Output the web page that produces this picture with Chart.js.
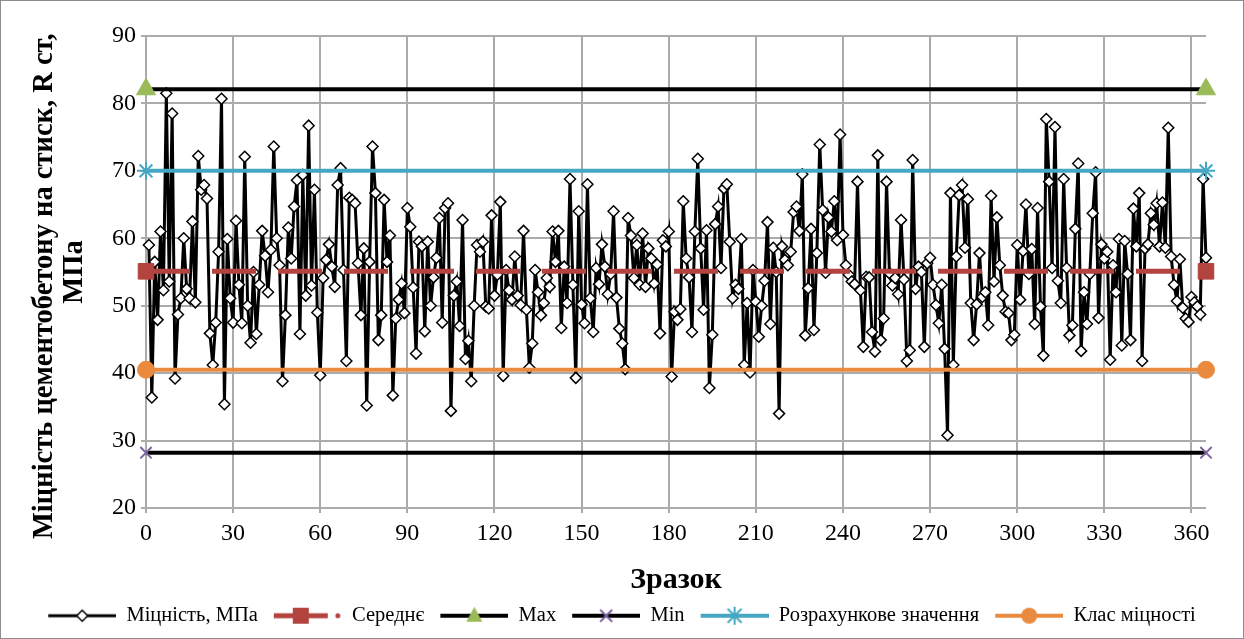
<!DOCTYPE html>
<html><head><meta charset="utf-8">
<script src="https://cdn.jsdelivr.net/npm/chart.js@4.4.1/dist/chart.umd.min.js"></script>
<style>html,body{margin:0;padding:0;background:#fff}canvas{display:block}</style>
</head><body>
<canvas id="c" width="1244" height="639"></canvas>
<script>
// ---- data ----
const strength = [
59.0,36.4,56.5,47.9,61.0,52.3,81.5,53.6,78.5,39.2,48.7,51.1,60.0,52.5,51.1,62.5,50.5,72.2,67.2,67.9,65.9,45.9,41.2,47.5,58.0,80.7,35.4,59.9,51.1,
47.5,62.6,53.1,47.4,72.1,50.0,44.5,55.0,45.8,53.1,61.1,57.4,52.0,58.3,73.6,60.0,56.0,38.8,48.6,61.6,57.0,64.7,68.6,45.8,69.4,51.5,76.7,53.0,67.2,49.0,39.7,
54.1,56.8,59.1,55.8,52.8,67.9,70.4,55.3,41.8,66.0,65.7,65.2,56.3,48.6,58.5,35.2,56.5,73.6,66.7,44.9,48.6,65.7,56.5,60.4,36.7,48.1,50.9,53.3,48.9,64.5,61.7,
52.7,42.9,59.5,58.8,46.2,59.5,50.0,54.2,57.1,63.0,47.5,64.5,65.2,34.4,51.5,53.6,47.0,62.7,42.1,44.8,38.8,50.0,59.0,58.0,59.5,49.9,49.6,63.4,51.5,
54.6,65.4,39.6,55.3,52.3,50.9,57.3,51.5,50.1,61.1,49.4,40.8,44.4,55.3,52.0,48.6,50.4,54.1,52.8,61.0,56.5,61.1,46.7,55.8,50.4,68.8,53.1,39.3,64.0,50.2,
47.4,68.0,51.1,46.1,55.6,53.2,59.1,55.8,51.7,54.7,64.0,51.2,46.6,44.4,40.6,63.0,60.4,54.1,59.0,53.1,60.7,52.8,58.5,57.0,53.3,56.1,45.9,59.7,58.8,61.0,
39.5,49.1,47.9,49.5,65.5,57.0,54.2,46.1,61.0,71.8,58.5,49.4,61.2,37.8,45.7,62.1,64.7,55.6,67.4,68.0,59.5,51.1,53.1,52.5,59.9,41.2,50.4,40.1,55.3,50.6,45.4,
50.0,
53.7,62.4,47.3,58.6,55.0,34.0,58.8,56.8,56.0,58.0,63.9,64.7,61.1,69.5,45.6,52.6,61.4,46.4,57.8,73.9,64.2,54.9,63.1,61.0,65.5,59.7,75.4,60.5,56.0,
54.6,53.6,53.2,68.4,52.3,43.9,54.3,54.2,46.1,43.2,72.3,44.9,48.1,68.4,54.8,53.0,54.1,51.7,62.7,53.9,41.8,43.4,71.6,52.5,55.8,55.0,43.9,
56.3,57.1,53.1,50.1,47.4,53.1,43.6,30.8,
66.7,41.2,57.3,66.4,67.9,58.6,65.8,50.4,44.9,50.2,57.8,51.3,52.0,47.1,66.3,53.6,63.1,56.0,51.5,49.1,48.9,44.9,45.7,59.0,50.9,58.1,65.0,
54.7,58.4,47.3,64.5,49.9,42.6,77.7,68.4,55.6,76.5,53.7,50.4,68.8,55.6,45.6,47.1,61.4,71.1,43.3,52.0,47.3,54.7,63.7,69.8,48.2,59.1,57.0,58.0,42.0,
56.0,52.0,59.9,44.1,59.6,54.7,44.9,64.4,58.8,66.7,41.8,58.5,59.1,63.7,62.0,65.2,58.8,65.3,58.6,76.4,57.3,53.1,50.7,56.9,49.7,48.1,47.6,51.3,50.5,49.9,48.7,68.8,57.1
];
const firstSample = 1;
const lineEnds = [0, 365];
const meanLine = [55.1, 55.1];
const maxLine = [82.1, 82.1];
const minLine = [28.2, 28.2];
const designLine = [70.0, 70.0];
const classLine = [40.5, 40.5];
const xTickValues = [0, 30, 60, 90, 120, 150, 180, 210, 240, 270, 300, 330, 360];
const yTickValues = [20, 30, 40, 50, 60, 70, 80, 90];
const seriesNames = ['Міцність, МПа', 'Середнє', 'Max', 'Min', 'Розрахункове значення', 'Клас міцності'];
const yTitle = ['Міцність цементобетону на стиск, R ст,    ', 'МПа'];
const xTitle = 'Зразок';

// ---- styles ----
const FONT = "'Liberation Serif', 'Times New Roman', serif";
const C_RED = '#B3433F', C_GREEN = '#9BBB59', C_PURPLE = '#7E64A0', C_CYAN = '#46A7C2', C_ORANGE = '#EA8A3E';
const PLOT_LEFT = 146, PAD_RIGHT = 12, PLOT_RIGHT_GAP = 26, PLOT_BOTTOM = 508, PAD_BOTTOM = 3;

const pts = (ys) => lineEnds.map((x, i) => ({x, y: ys[i]}));
const strengthPts = strength.map((v, i) => ({x: firstSample + i, y: v}));

// legend keys (line sample + marker)
const KEY_W = 80, KEY_H = 26, KEY_PAD = 12;
function makeKey(draw) {
  const c = document.createElement('canvas'); c.width = KEY_W; c.height = KEY_H;
  const g = c.getContext('2d'); draw(g, KEY_PAD, KEY_W, KEY_H / 2, (KEY_PAD + KEY_W) / 2); return c;
}
function keyLine(g, x0, x1, y, color, w) { g.strokeStyle = color; g.lineWidth = w; g.beginPath(); g.moveTo(x0, y); g.lineTo(x1, y); g.stroke(); }
const keys = [
  makeKey((g, x0, x1, y, cx) => { keyLine(g, x0, x1, y, '#000', 3); g.beginPath(); g.moveTo(cx, y - 5.5); g.lineTo(cx + 5.5, y); g.lineTo(cx, y + 5.5); g.lineTo(cx - 5.5, y); g.closePath(); g.fillStyle = '#fff'; g.fill(); g.lineWidth = 1.5; g.strokeStyle = '#000'; g.stroke(); }),
  makeKey((g, x0, x1, y, cx) => { keyLine(g, x0, x1 - 14, y, C_RED, 5); g.fillStyle = C_RED; g.fillRect(cx - 7 - 8, y - 8, 16, 16); g.beginPath(); g.arc(x1 - 4, y, 2.5, 0, Math.PI * 2); g.fill(); }),
  makeKey((g, x0, x1, y, cx) => { keyLine(g, x0, x1, y, '#000', 4); g.fillStyle = C_GREEN; g.beginPath(); g.moveTo(cx, y - 9); g.lineTo(cx + 8, y + 6); g.lineTo(cx - 8, y + 6); g.closePath(); g.fill(); }),
  makeKey((g, x0, x1, y, cx) => { keyLine(g, x0, x1, y, '#000', 4); g.strokeStyle = C_PURPLE; g.lineWidth = 2; g.beginPath(); g.moveTo(cx - 6, y - 6); g.lineTo(cx + 6, y + 6); g.moveTo(cx + 6, y - 6); g.lineTo(cx - 6, y + 6); g.stroke(); }),
  makeKey((g, x0, x1, y, cx) => { keyLine(g, x0, x1, y, C_CYAN, 4); g.strokeStyle = C_CYAN; g.lineWidth = 2; g.beginPath(); g.moveTo(cx - 7, y - 7); g.lineTo(cx + 7, y + 7); g.moveTo(cx + 7, y - 7); g.lineTo(cx - 7, y + 7); g.moveTo(cx, y - 9); g.lineTo(cx, y + 9); g.stroke(); }),
  makeKey((g, x0, x1, y, cx) => { keyLine(g, x0, x1, y, C_ORANGE, 4); g.fillStyle = C_ORANGE; g.beginPath(); g.arc(cx, y, 8, 0, Math.PI * 2); g.fill(); })
];

const frame = {
  id: 'frame',
  beforeDraw(chart) { const g = chart.ctx; g.save(); g.fillStyle = '#fff'; g.fillRect(0, 0, chart.width, chart.height); g.restore(); },
  afterDraw(chart) { const g = chart.ctx; g.save(); g.strokeStyle = '#8c8c8c'; g.lineWidth = 1; g.strokeRect(0.5, 0.5, chart.width - 1, chart.height - 1); g.restore(); }
};

const refSet = (label, data, color, lineColor, style, radius, extra) => Object.assign({
  label, data: pts(data), borderColor: lineColor, borderWidth: 4, pointStyle: style, pointRadius: radius,
  pointBackgroundColor: color, pointBorderColor: color, pointBorderWidth: 1, clip: false, order: 0
}, extra || {});

new Chart(document.getElementById('c'), {
  type: 'line',
  data: {
    datasets: [
      { label: seriesNames[0], data: strengthPts, borderColor: '#000', borderWidth: 3, tension: 0,
        pointStyle: 'rectRot', pointRadius: 5.5, pointBackgroundColor: '#fff', pointBorderColor: '#000', pointBorderWidth: 1.5,
        clip: false, order: 1 },
      refSet(seriesNames[1], meanLine, C_RED, C_RED, 'rect', 11, { borderWidth: 5, borderDash: [44, 22] }),
      refSet(seriesNames[2], maxLine, C_GREEN, '#000', 'triangle', 11),
      refSet(seriesNames[3], minLine, C_PURPLE, '#000', 'crossRot', 8, { pointBorderWidth: 2 }),
      refSet(seriesNames[4], designLine, C_CYAN, C_CYAN, 'star', 9, { pointBorderWidth: 2 }),
      refSet(seriesNames[5], classLine, C_ORANGE, C_ORANGE, 'circle', 8.5)
    ]
  },
  options: {
    responsive: false, animation: false, devicePixelRatio: 1, events: [],
    layout: { padding: { left: 0, right: PAD_RIGHT, top: 36, bottom: PAD_BOTTOM } },
    plugins: {
      tooltip: { enabled: false },
      legend: {
        position: 'bottom',
        labels: {
          usePointStyle: true, pointStyleWidth: KEY_W, boxHeight: 21, padding: 4,
          font: { family: FONT, size: 20.5 }, color: '#000',
          generateLabels: (chart) => chart.data.datasets.map((ds, i) => ({
            text: ds.label, pointStyle: keys[i], datasetIndex: i, hidden: false, lineWidth: 0,
            fillStyle: 'rgba(0,0,0,0)', strokeStyle: 'rgba(0,0,0,0)', fontColor: '#000'
          }))
        }
      }
    },
    scales: {
      x: {
        type: 'linear', min: lineEnds[0], max: lineEnds[1],
        afterBuildTicks: (s) => { s.ticks = xTickValues.map(v => ({ value: v })); },
        afterFit: (s) => { s.height = s.chart.height - PAD_BOTTOM - s.chart.legend.height - PLOT_BOTTOM; },
        grid: { color: '#ababab', lineWidth: 2, tickLength: 5, tickColor: '#ababab' },
        border: { display: false },
        ticks: { font: { family: FONT, size: 24 }, color: '#000', padding: 6, maxRotation: 0 },
        title: { display: true, text: xTitle, font: { family: FONT, size: 30, weight: 'bold', lineHeight: 1.0 }, color: '#000', padding: { top: 0, bottom: 6 } }
      },
      y: {
        type: 'linear', min: 20, max: 90,
        afterBuildTicks: (s) => { s.ticks = yTickValues.map(v => ({ value: v })); },
        afterFit: (s) => { s.width = PLOT_LEFT; },
        grid: { color: '#ababab', lineWidth: 2, tickLength: 5, tickColor: '#ababab' },
        border: { display: false },
        ticks: { font: { family: FONT, size: 24 }, color: '#000', padding: 5 },
        title: { display: true, text: yTitle, font: { family: FONT, size: 28.5, weight: 'bold', lineHeight: 1.05 }, color: '#000', padding: { top: 30, bottom: 0 } }
      },
      yRightGap: {
        type: 'linear', position: 'right', min: 20, max: 90,
        afterFit: (s) => { s.width = PLOT_RIGHT_GAP; },
        grid: { display: false }, border: { display: false }, ticks: { display: false }
      }
    }
  },
  plugins: [frame]
});
</script>
</body></html>
